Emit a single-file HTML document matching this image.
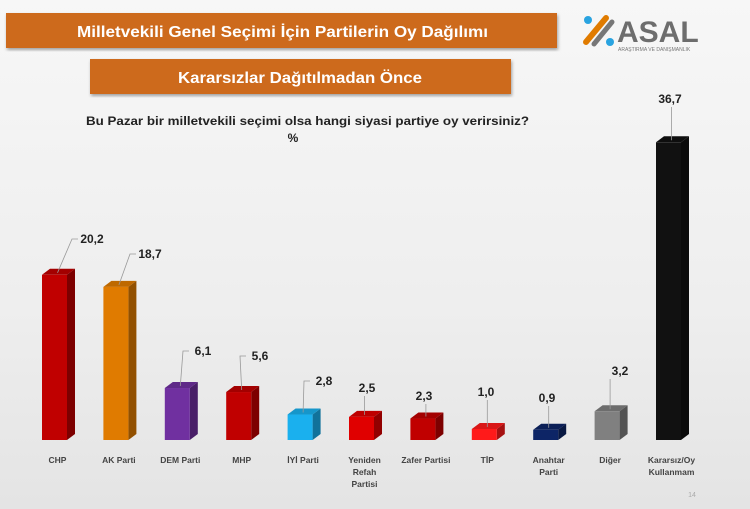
<!DOCTYPE html>
<html><head><meta charset="utf-8"><style>
body{margin:0;width:750px;height:509px;overflow:hidden;background:linear-gradient(180deg,#f7f7f7 0%,#eeeeee 60%,#e4e4e4 100%);font-family:"Liberation Sans",sans-serif;}
</style></head><body>
<svg width="750" height="509" viewBox="0 0 750 509" xmlns="http://www.w3.org/2000/svg" style="position:absolute;left:0;top:0">
<defs><filter id="sh"><feDropShadow dx="1" dy="2" stdDeviation="1.5" flood-opacity="0.35"/></filter></defs>
<rect x="6" y="13" width="551" height="35" fill="#cd6a1c" filter="url(#sh)"/>
<text x="77" y="37" fill="#fff" font-size="16" font-weight="bold" textLength="411" lengthAdjust="spacingAndGlyphs">Milletvekili Genel Seçimi İçin Partilerin Oy Dağılımı</text>
<rect x="90" y="59" width="421" height="35" fill="#cd6a1c" filter="url(#sh)"/>
<text x="178" y="83" fill="#fff" font-size="16" font-weight="bold" textLength="244" lengthAdjust="spacingAndGlyphs">Kararsızlar Dağıtılmadan Önce</text>
<!-- logo -->
<g>
<path d="M586 42 L606 18" stroke="#e07b00" stroke-width="6" stroke-linecap="round"/>
<path d="M594 44 L612 22" stroke="#777" stroke-width="5" stroke-linecap="round"/>
<circle cx="588" cy="20" r="4" fill="#29a3e0"/><circle cx="610" cy="42" r="4" fill="#29a3e0"/>
<text x="617" y="42" font-size="30" font-weight="bold" fill="#6d6d6d">ASAL</text>
<text x="618" y="51" font-size="5" fill="#777">ARAŞTIRMA VE DANIŞMANLIK</text>
</g>
<text x="86" y="125" font-size="12" font-weight="bold" fill="#222" textLength="443" lengthAdjust="spacingAndGlyphs">Bu Pazar bir milletvekili seçimi olsa hangi siyasi partiye oy verirsiniz?</text>
<text x="293" y="142" font-size="12" font-weight="bold" fill="#222" text-anchor="middle">%</text>
<g id="bars"></g>
<text x="692" y="497" font-size="7" fill="#aaa" text-anchor="middle">14</text>
</svg>
<script>
var d=[["CHP",20.2,"#c00000",["CHP"],92,243],["AK Parti",18.7,"#e07b00",["AK Parti"],150,258],["DEM",6.1,"#7030a0",["DEM Parti"],203,355],["MHP",5.6,"#c00000",["MHP"],260,360],["IYI",2.8,"#1ab0ee",["İYİ Parti"],324,385],["YRP",2.5,"#e00000",["Yeniden","Refah","Partisi"],367,392],["Z",2.3,"#c00000",["Zafer Partisi"],424,400],["TIP",1.0,"#ff1a1a",["TİP"],486,396],["A",0.9,"#0d2566",["Anahtar","Parti"],547,402],["D",3.2,"#808080",["Diğer"],620,375],["K",36.7,"#111111",["Kararsız/Oy","Kullanmam"],670,103]];
var g=document.getElementById("bars"),h="",base=440;
function shade(c,f){var n=parseInt(c.slice(1),16),r=n>>16,gg=n>>8&255,b=n&255;return"rgb("+Math.round(r*f)+","+Math.round(gg*f)+","+Math.round(b*f)+")";}
d.forEach(function(e,i){var x=42+i*61.4,w=25,dx=8,dy=6,hh=8.03*e[1]+3,t=base-hh,c=e[2];
h+='<polygon points="'+(x+w)+','+t+' '+(x+w+dx)+','+(t-dy)+' '+(x+w+dx)+','+(base-dy)+' '+(x+w)+','+base+'" fill="'+shade(c,0.65)+'"/>';
h+='<polygon points="'+x+','+t+' '+(x+dx)+','+(t-dy)+' '+(x+w+dx)+','+(t-dy)+' '+(x+w)+','+t+'" fill="'+shade(c,0.85)+'"/>';
h+='<rect x="'+x+'" y="'+t+'" width="'+w+'" height="'+hh+'" fill="'+c+'"/>';
var cx=x+w/2+3,lx=e[4],ly=e[5];
if(lx-cx>15){h+='<polyline points="'+cx+','+(t-2)+' '+(lx-20)+','+(ly-4)+' '+(lx-14)+','+(ly-4)+'" fill="none" stroke="#999" stroke-width="0.8"/>';}
else{h+='<line x1="'+cx+'" y1="'+(t-2)+'" x2="'+cx+'" y2="'+(ly+4)+'" stroke="#999" stroke-width="0.8"/>';}
h+='<text x="'+lx+'" y="'+ly+'" font-size="12" font-weight="bold" fill="#222" text-anchor="middle">'+(e[1].toFixed(1).replace(".",","))+'</text>';
e[3].forEach(function(s,j){h+='<text x="'+(x+w/2+3)+'" y="'+(463+j*12)+'" font-size="8.5" font-weight="bold" fill="#444" text-anchor="middle">'+s+'</text>';});
});
g.innerHTML=h;
</script>
</body></html>
